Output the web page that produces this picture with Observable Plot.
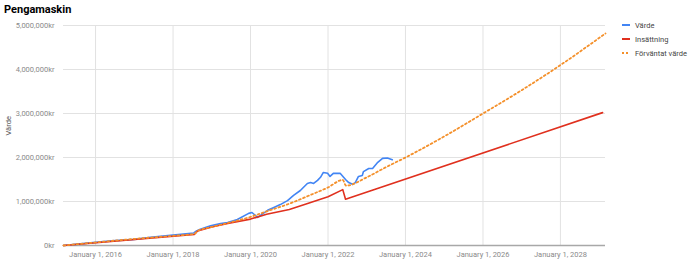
<!DOCTYPE html>
<html><head><meta charset="utf-8">
<script src="https://cdn.jsdelivr.net/npm/d3@7"></script>
<script src="https://cdn.jsdelivr.net/npm/@observablehq/plot@0.6"></script>
<style>
body{margin:0;background:#fff;font-family:Roboto,sans-serif}
#wrap{position:relative;width:690px;height:265px;overflow:hidden}
#title{position:absolute;left:4px;top:3px;font:bold 11px Roboto,sans-serif;color:#000}
#legend{position:absolute;left:622px;top:18px;font:7.5px Roboto,sans-serif;color:#444}
.li{display:flex;align-items:center;height:14px}
.sw{width:8px;height:2px;margin-right:5px}
.dots{width:8px;height:2px;margin-right:5px;background:repeating-linear-gradient(90deg,#f4902b 0 2px,transparent 2px 4px)}
</style></head><body>
<div id="wrap"><div id="chart"></div><div id="title">Pengamaskin</div>
<div id="legend">
<div class="li"><div class="sw" style="background:#4285f4"></div>Värde</div>
<div class="li"><div class="sw" style="background:#e0301e"></div>Insättning</div>
<div class="li"><div class="dots"></div>Förväntat värde</div>
</div></div>
<script>
const seriesNames = ["Värde", "Insättning", "Förväntat värde"];
const colors = ["#4285f4", "#e0301e", "#f4902b"];
const yTicks = [0, 1000000, 2000000, 3000000, 4000000, 5000000];
const xTickDates = ["2016-01-01","2018-01-01","2020-01-01","2022-01-01","2024-01-01","2026-01-01","2028-01-01"];

const vardeDates = ["2015-03-05","2015-06-01","2015-09-01","2016-01-01","2016-06-01","2017-01-01","2017-06-01","2018-01-01","2018-07-15","2018-08-10","2018-09-15","2018-12-20","2019-03-25","2019-05-30","2019-08-30","2019-12-15","2020-01-15","2020-03-08","2020-06-10","2020-08-03","2020-10-08","2020-12-15","2021-02-10","2021-04-15","2021-06-20","2021-07-20","2021-08-18","2021-09-24","2021-10-22","2021-11-18","2021-12-28","2022-01-20","2022-02-20","2022-04-25","2022-06-15","2022-07-15","2022-08-20","2022-09-15","2022-10-15","2022-11-20","2022-12-01","2023-01-20","2023-02-25","2023-04-15","2023-05-30","2023-07-15","2023-08-30"];
const vardeValues = [0,20000,42000,70000,105000,140000,185000,235000,285000,330000,370000,450000,500000,520000,590000,730000,750000,640000,800000,860000,930000,1020000,1140000,1250000,1410000,1430000,1410000,1480000,1550000,1660000,1640000,1570000,1640000,1640000,1500000,1430000,1390000,1430000,1570000,1590000,1680000,1750000,1750000,1890000,1980000,1990000,1950000];

const insDates = ["2015-03-05","2018-07-20","2018-08-20","2019-01-01","2019-06-01","2020-01-01","2020-06-01","2021-01-01","2021-06-01","2022-01-01","2022-05-20","2022-06-15","2029-02-01"];
const insValues = [0,250000,330000,420000,500000,600000,710000,820000,940000,1110000,1270000,1050000,3020000];

const forvDates = ["2015-03-05","2016-01-01","2017-01-01","2018-01-01","2018-07-20","2018-08-20","2019-01-01","2019-07-01","2020-01-01","2020-07-01","2021-01-01","2021-07-01","2022-01-01","2022-05-20","2022-06-20","2023-01-01","2023-07-01","2024-01-01","2025-01-01","2026-01-01","2027-01-01","2028-01-01","2029-03-01"];
const forvValues = [0,70000,150000,220000,265000,330000,420000,530000,650000,800000,950000,1130000,1320000,1490000,1360000,1550000,1780000,2000000,2480000,3000000,3530000,4100000,4820000];

const parse = d3.utcParse("%Y-%m-%d");
const mk = (ds, vs, s) => ds.map((d, i) => ({date: parse(d), value: vs[i], series: s}));
const vData = mk(vardeDates, vardeValues, seriesNames[0]);
const iData = mk(insDates, insValues, seriesNames[1]);
const fData = mk(forvDates, forvValues, seriesNames[2]);
const xTicks = xTickDates.map(parse);

const chart = Plot.plot({
  width: 690, height: 265,
  marginLeft: 63, marginRight: 85, marginTop: 25, marginBottom: 20,
  style: {fontFamily: "Roboto, sans-serif", fontSize: "7.5px", background: "transparent", color: "#888"},
  x: {type: "utc", domain: [parse("2015-03-05"), parse("2029-03-01")]},
  y: {domain: [0, 5000000]},
  marks: [
    Plot.ruleY(yTicks.slice(1), {stroke: "#e2e2e2", strokeWidth: 1}),
    Plot.ruleX(xTicks, {y1: 0, y2: 5000000, stroke: "#e2e2e2", strokeWidth: 1}),
    Plot.axisY({ticks: yTicks, tickSize: 0, tickPadding: 9, tickFormat: d => d3.format(",")(d) + "kr", label: null, fill: "#8a8a8a"}),
    Plot.axisX({ticks: xTicks, tickSize: 0, tickPadding: 6, tickFormat: d3.utcFormat("%B %-d, %Y"), label: null, fill: "#8a8a8a"}),
    Plot.ruleY([0], {stroke: "#a8a8a8", strokeWidth: 1.3}),
    Plot.line(vData, {x: "date", y: "value", stroke: colors[0], strokeWidth: 1.6}),
    Plot.line(iData, {x: "date", y: "value", stroke: colors[1], strokeWidth: 1.6}),
    Plot.line(fData, {x: "date", y: "value", stroke: colors[2], strokeWidth: 1.8, strokeDasharray: "1.8,2.6", curve: "monotone-x"}),
    Plot.text(["Värde"], {text: d => d, frameAnchor: "left", dx: -55, rotate: -90, fill: "#555", fontSize: 7.5})
  ]
});
document.getElementById("chart").appendChild(chart);
</script>
</body></html>
